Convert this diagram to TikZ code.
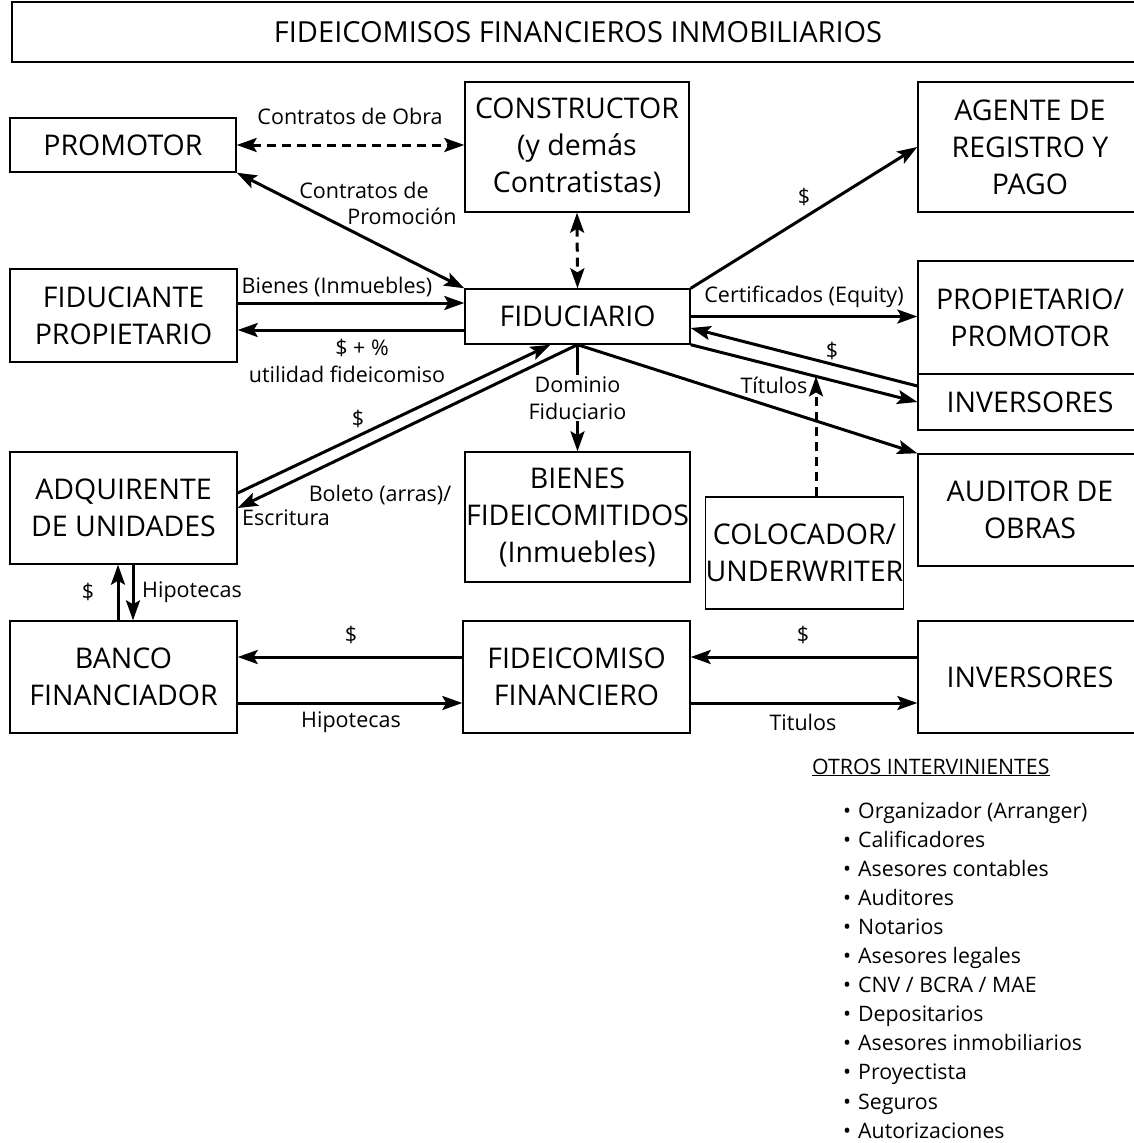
\documentclass[tikz,border=0pt]{standalone}
\usepackage{fontspec}
\setmainfont{Open Sans}
\usetikzlibrary{arrows.meta,calc}
\begin{document}
\begin{tikzpicture}[x=1pt,y=-1pt,
  >={Stealth[length=20pt,width=14pt,inset=4pt]},
  box/.style={draw, line width=1.4pt, align=center, inner sep=0pt,
    font=\fontsize{28.5}{37}\selectfont},
  lbl/.style={font=\fontsize{21.5}{27}\selectfont, inner sep=1pt},
  arr/.style={line width=3pt},
  dsh/.style={dash pattern=on 9pt off 6pt},
  item/.style={anchor=base west, font=\fontsize{21.3}{24}\selectfont, inner sep=0pt}]
\clip (0,0) rectangle (1134,1143);
\fill[white] (0,0) rectangle (1134,1143);

% boxes
\node[box, minimum width=1132pt, minimum height=60pt, font=\fontsize{29}{34}\selectfont] (title) at (578,32) {FIDEICOMISOS FINANCIEROS INMOBILIARIOS};
\node[box, minimum width=226pt, minimum height=54pt] (promotor) at (123,145) {PROMOTOR};
\node[box, minimum width=224pt, minimum height=130pt] (constructor) at (577,147) {CONSTRUCTOR\\(y demás\\Contratistas)};
\node[box, minimum width=224pt, minimum height=130pt] (agente) at (1030,147) {AGENTE DE\\REGISTRO Y\\PAGO};
\node[box, minimum width=227pt, minimum height=93pt] (fiduciante) at (123.5,315.5) {FIDUCIANTE\\PROPIETARIO};
\node[box, minimum width=225pt, minimum height=55pt] (fiduciario) at (577.5,316.5) {FIDUCIARIO};
\node[box, minimum width=224pt, minimum height=113pt] (propietario) at (1030,317.5) {PROPIETARIO/\\PROMOTOR};
\node[box, minimum width=224pt, minimum height=56pt] (inversoresA) at (1030,402) {INVERSORES};
\node[box, minimum width=227pt, minimum height=112pt] (adquirente) at (123.5,508) {ADQUIRENTE\\DE UNIDADES};
\node[box, minimum width=225pt, minimum height=130pt] (bienes) at (577.5,517) {BIENES\\FIDEICOMITIDOS\\(Inmuebles)};
\node[box, minimum width=187pt, minimum height=112pt] (colocador) at (804.5,553) {COLOCADOR/\\UNDERWRITER};
\node[box, minimum width=224pt, minimum height=112pt] (auditor) at (1030,510) {AUDITOR DE\\OBRAS};
\node[box, minimum width=227pt, minimum height=112pt] (banco) at (123.5,677) {BANCO\\FINANCIADOR};
\node[box, minimum width=227pt, minimum height=112pt] (fideicomiso) at (576.5,677) {FIDEICOMISO\\FINANCIERO};
\node[box, minimum width=224pt, minimum height=112pt] (inversoresB) at (1030,677) {INVERSORES};

% connectors
\draw[arr, dsh, <->] (promotor.east) -- (promotor.east -| constructor.west);
\draw[arr, <->] (promotor.south east) -- (fiduciario.north west);
\draw[arr, dsh, <->] (constructor.south) -- (fiduciario.north);
\draw[arr, ->] (fiduciario.north east) -- (agente.west);
\draw[arr, ->] (fiduciante.east |- 0,303) -- (fiduciario.west |- 0,303);
\draw[arr, ->] (fiduciario.west |- 0,330) -- (fiduciante.east |- 0,330);
\draw[arr, ->] (fiduciario.east) -- (fiduciario.east -| propietario.west);
\draw[arr, ->] (inversoresA.west |- 0,386) -- (fiduciario.east |- 0,328);
\draw[arr, ->] (fiduciario.south east) -- coordinate[pos=0.553] (tit) (inversoresA.west);
\draw[arr, ->] (fiduciario.south) -- (auditor.north west);
\draw[arr, ->] (fiduciario.south) -- (adquirente.east);
\draw[arr, ->] (adquirente.east |- 0,493) -- ([xshift=-27pt]fiduciario.south);
\draw[arr, ->] (fiduciario.south) -- node[lbl, fill=white, align=center, inner sep=2pt] (dominio) {Dominio\\Fiduciario} (bienes.north);
\draw[arr, dsh, ->] (tit |- colocador.north) -- (tit);
\draw[arr, ->] (banco.north -| 118,0) -- (adquirente.south -| 118,0);
\draw[arr, ->] (adquirente.south -| 133,0) -- (banco.north -| 133,0);
\draw[arr, ->] (fideicomiso.west |- 0,657) -- (banco.east |- 0,657);
\draw[arr, ->] (banco.east |- 0,703) -- (fideicomiso.west |- 0,703);
\draw[arr, ->] (inversoresB.west |- 0,657) -- (fideicomiso.east |- 0,657);
\draw[arr, ->] (fideicomiso.east |- 0,703) -- (inversoresB.west |- 0,703);

% labels
\node[lbl] (l1) at (350,116) {Contratos de Obra};
\node[lbl] (l2) at (364,190) {Contratos de};
\node[lbl] (l3) at (402,216) {Promoción};
\node[lbl] (l4) at (337,287) {Bienes (Inmuebles)};
\node[lbl] (l5) at (362,348) {\$ + \%};
\node[lbl] (l6) at (347,374) {utilidad fideicomiso};
\node[lbl] (l7) at (804,197) {\$};
\node[lbl] (l8) at (804,297) {Certificados (Equity)};
\node[lbl] (l9) at (832,351) {\$};
\node[lbl] (l10) at (774,385) {Títulos};
\node[lbl] (l11) at (358,419) {\$};
\node[lbl] (l12) at (380,495) {Boleto (arras)/};
\node[lbl] (l13) at (286,518) {Escritura};
\node[lbl] (l14) at (88,592) {\$};
\node[lbl] (l15) at (192,592) {Hipotecas};
\node[lbl] (l16) at (351,635) {\$};
\node[lbl] (l17) at (351,722) {Hipotecas};
\node[lbl] (l18) at (803,635) {\$};
\node[lbl] (l19) at (803,722) {Titulos};

% otros intervinientes
\node[item] (otros) at (812,774) {\underline{OTROS INTERVINIENTES}};
\foreach \t [count=\i from 0] in {Organizador (Arranger), Calificadores, Asesores contables, Auditores, Notarios, Asesores legales, CNV / BCRA / MAE, Depositarios, Asesores inmobiliarios, Proyectista, Seguros, Autorizaciones}
  \node[item] (it\i) at (843,818+29.1*\i) {•\hspace{7pt}\t};
\end{tikzpicture}
\end{document}
